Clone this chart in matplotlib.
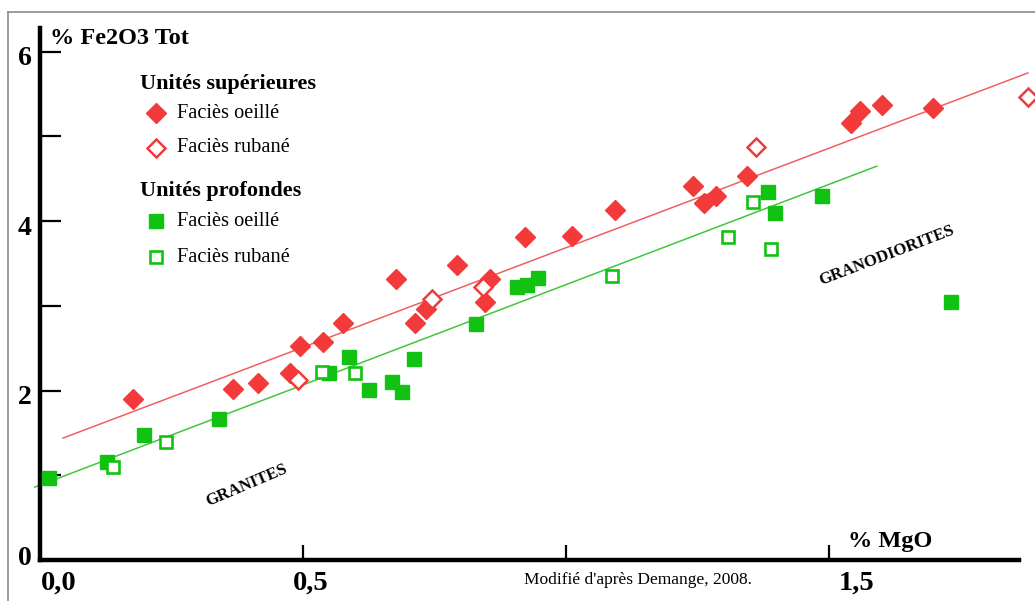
import matplotlib
matplotlib.use("Agg")
import matplotlib.pyplot as plt
import numpy as np

# Unités supérieures - faciès oeillé (MgO, Fe2O3)
sup_oeille_mgo = [0.177, 0.367, 0.414, 0.475, 0.494, 0.538, 0.576, 0.677, 0.713, 0.734,
                  0.793, 0.846, 0.856, 0.922, 1.011, 1.093, 1.241, 1.262, 1.285, 1.344,
                  1.542, 1.559, 1.601, 1.698]
sup_oeille_fe = [1.90, 2.02, 2.09, 2.21, 2.53, 2.57, 2.80, 3.32, 2.80, 2.96,
                 3.48, 3.05, 3.32, 3.81, 3.83, 4.13, 4.42, 4.21, 4.30, 4.53,
                 5.16, 5.30, 5.37, 5.34]
# Unités supérieures - faciès rubané
sup_rubane_mgo = [0.490, 0.745, 0.842, 1.361, 1.878]
sup_rubane_fe = [2.13, 3.08, 3.22, 4.88, 5.47]
# Unités profondes - faciès oeillé
prof_oeille_mgo = [0.017, 0.127, 0.198, 0.340, 0.549, 0.587, 0.625, 0.669, 0.688, 0.711,
                   0.829, 0.907, 0.926, 0.947, 1.384, 1.397, 1.487, 1.732]
prof_oeille_fe = [0.97, 1.16, 1.48, 1.66, 2.21, 2.40, 2.01, 2.10, 1.98, 2.37,
                  2.79, 3.22, 3.25, 3.33, 4.34, 4.10, 4.30, 3.05]
# Unités profondes - faciès rubané
prof_rubane_mgo = [0.139, 0.240, 0.536, 0.599, 1.087, 1.308, 1.356, 1.390]
prof_rubane_fe = [1.10, 1.39, 2.22, 2.21, 3.35, 3.81, 4.23, 3.67]

# droites de tendance (extrémités)
trend_sup_mgo = [0.044, 1.878]
trend_sup_fe = [1.44, 5.75]
trend_prof_mgo = [-0.010, 1.591]
trend_prof_fe = [0.86, 4.65]

x_tick_values = [0.0, 0.5, 1.5]
x_tick_labels = ["0,0", "0,5", "1,5"]
y_tick_values = [0, 2, 4, 6]
y_tick_labels = ["0", "2", "4", "6"]

RED = "#f23a3a"
GREEN = "#12c212"
SERIF = "Liberation Serif"
W, H = 1035, 601


def fx(px):
    return px / W


def fy(py):
    return 1 - py / H


fig = plt.figure(figsize=(10.35, 6.01), dpi=100)
ax = fig.add_axes([fx(40), fy(560), (1019 - 40) / W, (560 - 28) / H])
ax.set_xlim(0, (1019 - 40) / 526)
ax.set_ylim(0, (560 - 28) / 84.7)

# cadre gris autour de la figure
fig.add_artist(plt.Line2D([fx(8), fx(8)], [fy(12), 0], color="#8a8a8a", lw=1.2))
fig.add_artist(plt.Line2D([fx(8), 1], [fy(12), fy(12)], color="#8a8a8a", lw=1.2))

ax.plot(trend_sup_mgo, trend_sup_fe, color="#f06060", lw=1.1, clip_on=False, zorder=2)
ax.plot(trend_prof_mgo, trend_prof_fe, color="#3ec83e", lw=1.1, clip_on=False, zorder=2)

ax.plot(sup_oeille_mgo, sup_oeille_fe, "D", ms=9.8, color=RED, mec=RED, clip_on=False, zorder=3)
ax.plot(sup_rubane_mgo, sup_rubane_fe, "D", ms=8.8, mfc="white", mec=RED, mew=1.8,
        clip_on=False, zorder=3)
ax.plot(prof_oeille_mgo, prof_oeille_fe, "s", ms=10, color=GREEN, mec=GREEN, clip_on=False, zorder=3)
ax.plot(prof_rubane_mgo, prof_rubane_fe, "s", ms=8.6, mfc="white", mec=GREEN, mew=1.9,
        clip_on=False, zorder=3)

# axes
for side in ["top", "right"]:
    ax.spines[side].set_visible(False)
ax.spines["left"].set_linewidth(3.2)
ax.spines["bottom"].set_linewidth(3.2)
ax.spines["left"].set_bounds(0, (560 - 28) / 84.7)

ax.set_yticks([1, 2, 3, 4, 5, 6])
ax.set_yticklabels([])
ax.tick_params(axis="y", direction="in", length=15, width=1.6, color="black")
ax.yaxis.get_major_ticks()[0].tick1line.set_color(RED)
ax.set_xticks([0.5, 1.0, 1.5])
ax.set_xticklabels([])
ax.tick_params(axis="x", direction="in", length=11, width=1.6, color="black")

# étiquettes des graduations
x_label_offsets = [19, 8, 28]
for v, lab, off in zip(x_tick_values, x_tick_labels, x_label_offsets):
    ax.annotate(lab, xy=(v, 0), xycoords=("data", "axes fraction"),
                xytext=(off * 0.72, -17), textcoords="offset points",
                ha="center", va="center", fontsize=20.5, fontweight="bold", family=SERIF)
for v, lab in zip(y_tick_values, y_tick_labels):
    ax.annotate(lab, xy=(0, v), xycoords=("axes fraction", "data"),
                xytext=(-11, -5 if v > 0 else 1), textcoords="offset points",
                ha="center", va="center", fontsize=20, fontweight="bold", family=SERIF)

fig.text(fx(50), fy(38), "% Fe2O3 Tot", fontsize=17.5, fontweight="bold", family=SERIF,
         ha="left", va="center")
fig.text(fx(848), fy(542), "% MgO", fontsize=17.5, fontweight="bold", family=SERIF,
         ha="left", va="center")
fig.text(fx(638), fy(580), "Modifié d'après Demange, 2008.", fontsize=12.5, family=SERIF,
         ha="center", va="center")

ax.text(0.392, 0.876, "GRANITES", transform=ax.transData, rotation=23, fontsize=12,
        fontweight="bold", family=SERIF, ha="center", va="center")
ax.text(1.610, 3.59, "GRANODIORITES", transform=ax.transData, rotation=21, fontsize=12,
        fontweight="bold", family=SERIF, ha="center", va="center")

# légende
fig.text(fx(140), fy(84), "Unités supérieures", fontsize=16, fontweight="bold", family=SERIF,
         ha="left", va="center")
fig.text(fx(140), fy(191), "Unités profondes", fontsize=16, fontweight="bold", family=SERIF,
         ha="left", va="center")
legend_rows = [
    (113, "D", 9.8, RED, RED, 1.0),
    (148, "D", 8.8, "white", RED, 1.8),
    (221, "s", 10, GREEN, GREEN, 1.0),
    (257, "s", 8.6, "white", GREEN, 1.9),
]
legend_texts = ["Faciès oeillé", "Faciès rubané", "Faciès oeillé", "Faciès rubané"]
for (py, mk, ms, fc, ec, mw), txt in zip(legend_rows, legend_texts):
    fig.add_artist(plt.Line2D([fx(156)], [fy(py)], marker=mk, ms=ms, mfc=fc, mec=ec, mew=mw,
                              ls="none"))
    fig.text(fx(177), fy(py), txt, fontsize=14.7, family=SERIF, ha="left", va="center")

fig.savefig("out.png", dpi=100)
